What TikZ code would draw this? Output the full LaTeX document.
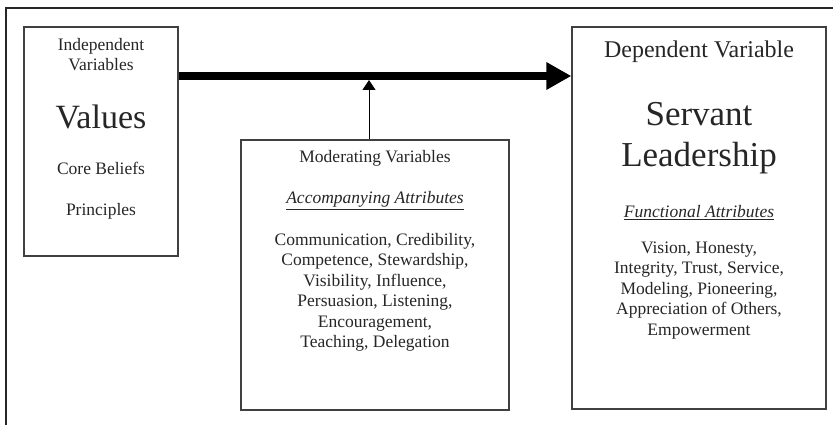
\documentclass[tikz,border=0pt]{standalone}
\usepackage{fontspec}
\setmainfont{Liberation Serif}
\usetikzlibrary{arrows.meta,positioning}

\begin{document}
\begin{tikzpicture}[x=1pt,y=-1pt,
    box/.style={draw=black!75, line width=1.3pt, inner sep=0pt},
    txt/.style={font=\fontsize{17.5}{20.5}\selectfont, text=black!85, align=center, inner sep=0pt, anchor=base},
    big/.style={txt, font=\fontsize{34}{41}\selectfont}]
    \useasboundingbox (0,0) rectangle (833,425);
    \draw[line width=2pt, black!85] (6,432) -- (6,8) -- (840,8);
    % the three boxes
    \node[box, minimum width=154pt, minimum height=229pt] (iv) at (101,141.5) {};
    \node[box, minimum width=268pt, minimum height=270pt] (mv) at (375,275) {};
    \node[box, minimum width=254pt, minimum height=382pt] (dv) at (699,218) {};
    % independent (base = last line)
    \node[txt] (ivlab) at (101,71) {Independent\\Variables};
    \node[big] (val) at (101,129) {Values};
    \node[txt] (core) at (101,175) {Core Beliefs};
    \node[txt] (prin) at (101,215) {Principles};
    % moderating
    \node[txt] (mvlab) at (375,163) {Moderating Variables};
    \node[txt] (acc) at (375,204) {\underline{\textit{Accompanying Attributes}}};
    \node[txt] (acclist) at (375,347.5) {Communication, Credibility,\\Competence, Stewardship,\\Visibility, Influence,\\Persuasion, Listening,\\Encouragement,\\Teaching, Delegation};
    % dependent
    \node[txt, font=\fontsize{24}{28}\selectfont] (dvlab) at (699,58) {Dependent Variable};
    \node[big, font=\fontsize{35}{41}\selectfont] (sl) at (699,167) {Servant\\Leadership};
    \node[txt] (fun) at (699,218) {\underline{\textit{Functional Attributes}}};
    \node[txt] (funlist) at (699,335) {Vision, Honesty,\\Integrity, Trust, Service,\\Modeling, Pioneering,\\Appreciation of Others,\\Empowerment};
    % arrows
    \coordinate (jn) at (369,80);
    \draw[line width=8pt, -{Triangle[length=25pt,width=26pt]}] (iv.east |- 0,76) -- (dv.west |- 0,76);
    \draw[line width=1pt, -{Triangle[length=10pt,width=13pt]}] (mv.north -| jn) -- (jn);
\end{tikzpicture}
\end{document}
